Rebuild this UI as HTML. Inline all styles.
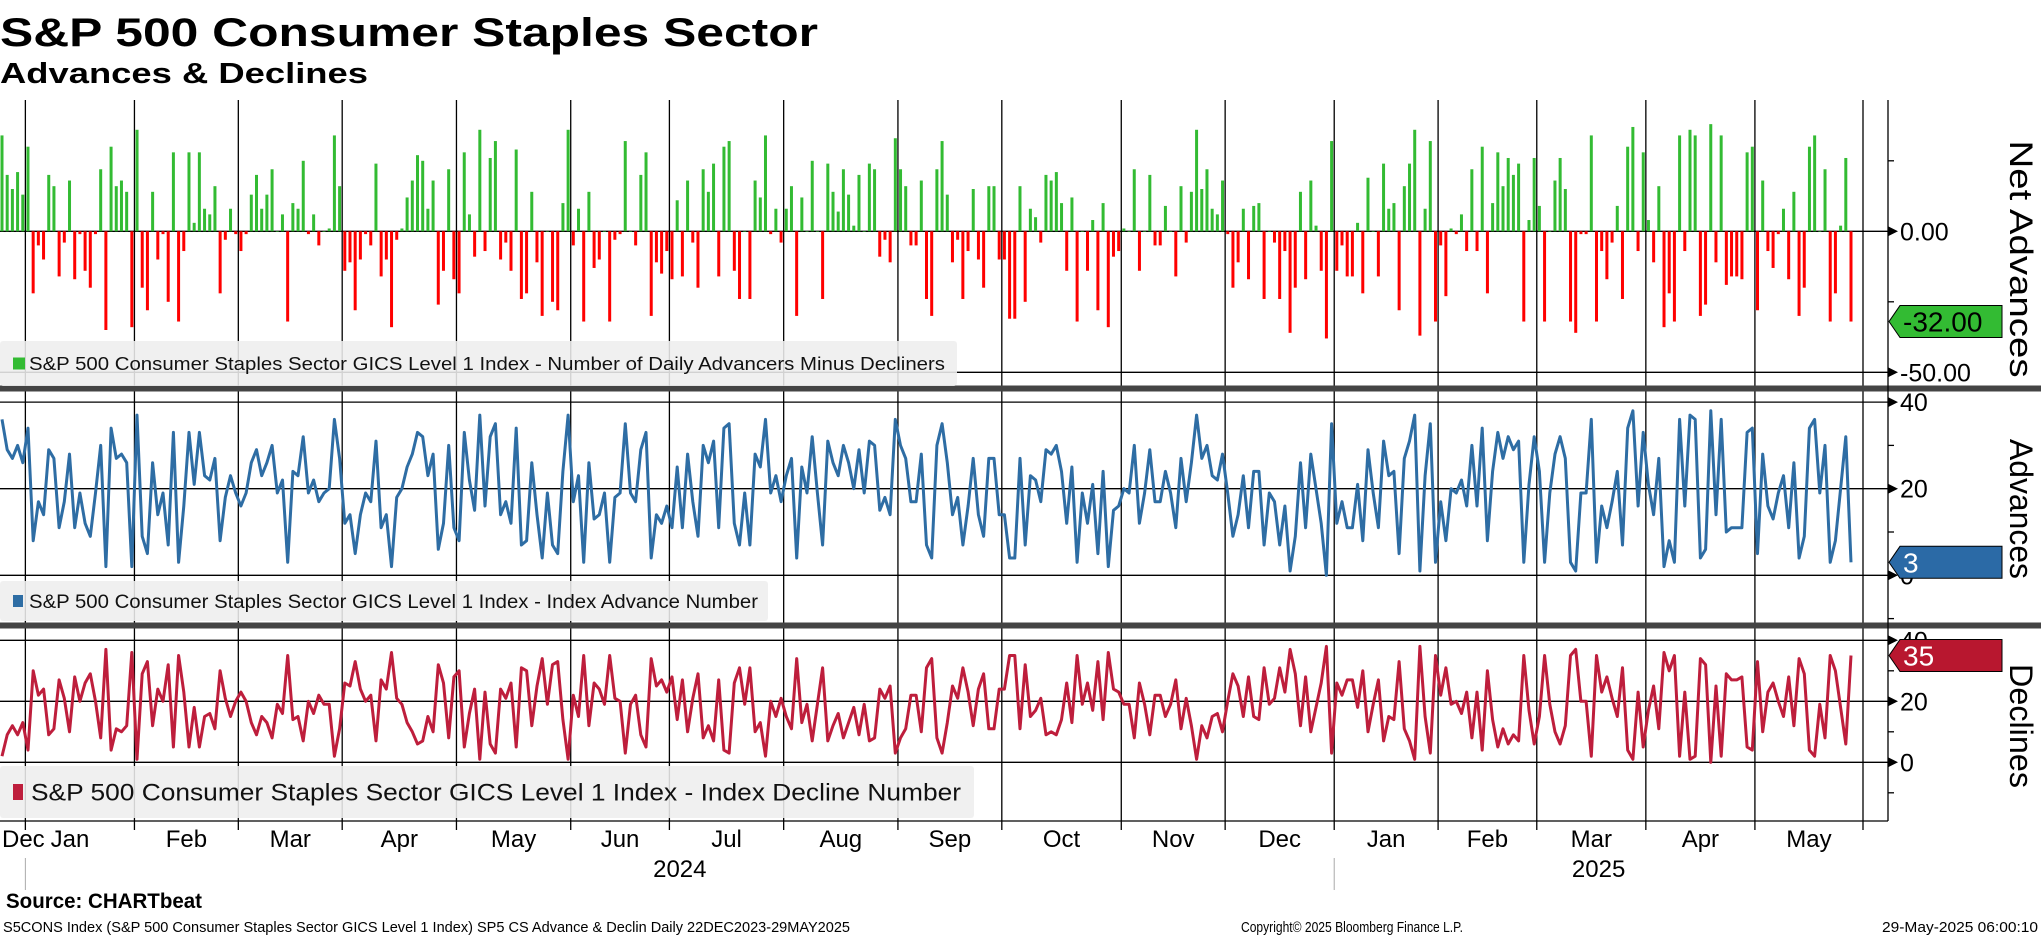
<!DOCTYPE html>
<html><head><meta charset="utf-8"><style>
html,body{margin:0;padding:0;background:#fff;}
svg{display:block;font-family:"Liberation Sans",sans-serif;}
</style></head><body>
<svg id="chart" width="2041" height="936" viewBox="0 0 2041 936" xmlns="http://www.w3.org/2000/svg">
<text x="0" y="46" font-size="40" font-weight="bold" textLength="818" lengthAdjust="spacingAndGlyphs">S&amp;P 500 Consumer Staples Sector</text>
<text x="0" y="83" font-size="29" font-weight="bold" textLength="368" lengthAdjust="spacingAndGlyphs">Advances &amp; Declines</text>
<g id="grid"></g>
<g id="marks"></g>
<g id="overlay"></g>
<text x="6" y="908" font-size="21" font-weight="bold" textLength="196" lengthAdjust="spacingAndGlyphs">Source: CHARTbeat</text>
<text x="3" y="932" font-size="15" textLength="847" lengthAdjust="spacingAndGlyphs">S5CONS Index (S&amp;P 500 Consumer Staples Sector GICS Level 1 Index) SP5 CS Advance &amp; Declin  Daily 22DEC2023-29MAY2025</text>
<text x="1241" y="932" font-size="15" textLength="222" lengthAdjust="spacingAndGlyphs">Copyright© 2025 Bloomberg Finance L.P.</text>
<text x="1882" y="932" font-size="15" textLength="156" lengthAdjust="spacingAndGlyphs">29-May-2025 06:00:10</text>
</svg>
<script>
const netValues = [34,20,15,21,13,30,-22,-5,-10,20,16,-16,-4,18,-17,-1,-14,-20,-1,22,-35,30,16,18,14,-34,36,-20,-28,14,-10,-1,-25,28,-32,-7,28,3,28,8,6,16,-22,-3,8,-1,-7,-1,13,20,8,13,22,0,6,-32,10,8,25,-1,6,-5,0,1,34,16,-14,-11,-28,-10,-1,-5,24,-16,-10,-34,-3,1,12,18,27,25,8,18,-26,-14,22,-17,-22,28,6,-9,36,
-7,26,32,-10,-4,-14,29,-24,-22,14,-11,-30,0,-25,-28,10,36,-5,8,-32,14,-13,-10,0,-32,-3,-1,32,0,-5,20,28,-30,-11,-15,-7,-17,11,-16,18,-4,-20,22,14,24,-16,30,32,-14,-24,0,-24,18,12,34,-1,8,-4,8,16,-30,12,0,25,0,-24,24,14,7,22,13,2,20,0,24,22,-9,-3,-11,33,22,16,-5,-5,18,-24,-30,22,32,13,
-11,-3,-24,-7,15,-10,-20,16,16,-10,-10,-31,-31,16,-25,8,5,-4,20,18,21,10,-14,12,-32,0,-14,4,-28,10,-34,-9,-7,1,0,22,-14,0,20,-5,-5,9,0,-16,16,-4,14,36,15,22,8,6,18,-1,-20,-11,8,-17,9,10,-24,0,-4,-24,-7,-36,-20,14,-17,18,2,-14,-38,32,-14,-5,-16,-16,3,-22,19,0,-16,24,8,10,-28,16,24,36,-37,
8,32,-32,-5,-23,1,-1,6,-7,22,-7,30,-22,10,28,16,26,20,24,-32,4,26,9,-32,0,18,26,15,-32,-36,-1,-1,34,-32,-7,-17,-4,9,-24,30,37,-7,28,4,-11,16,-34,-22,-32,34,-7,36,34,-30,-26,38,-11,34,-19,-16,-16,-17,28,30,-28,18,-7,-13,-1,8,-17,14,-30,-20,30,34,0,22,-32,-22,2,26,-32];
const advValues = [36,29,27,30,26,34,8,17,14,29,27,11,17,28,11,19,12,9,19,30,2,34,27,28,26,2,37,9,5,26,14,19,7,33,3,16,33,21,33,23,22,27,8,18,23,19,16,19,26,29,23,26,30,19,22,3,24,23,32,19,22,17,19,20,36,27,12,14,5,14,19,17,31,11,14,2,18,20,25,28,33,32,23,28,6,12,30,11,8,33,22,15,37,
16,32,35,14,17,12,34,7,8,26,14,4,19,7,5,24,37,17,23,3,26,13,14,19,3,18,19,35,19,17,29,33,4,14,12,16,11,25,11,28,17,9,30,26,31,11,34,35,12,7,19,7,28,25,36,19,23,17,23,27,4,25,19,32,19,7,31,26,23,30,26,20,29,19,31,30,15,18,14,36,30,27,17,17,28,7,4,30,35,26,
14,18,7,16,27,14,9,27,27,14,14,4,4,27,7,23,22,17,29,28,30,24,12,25,3,19,12,21,5,24,2,15,16,20,19,30,12,19,29,17,17,24,19,11,27,17,26,37,27,30,23,22,28,19,9,14,23,11,24,24,7,19,17,7,16,1,9,26,11,28,20,12,0,35,12,17,11,11,21,8,29,19,11,31,23,24,5,27,31,37,1,
23,35,3,17,8,20,19,22,16,30,16,34,8,24,33,27,32,29,31,3,21,32,24,3,19,28,32,27,3,1,19,19,36,3,16,11,17,24,7,34,38,16,33,21,14,27,2,8,3,36,16,37,36,4,6,38,14,36,10,11,11,11,33,34,5,28,16,13,19,23,11,26,4,9,34,36,19,30,3,8,20,32,3];
const monthLabels = ["Jan","Feb","Mar","Apr","May","Jun","Jul","Aug","Sep","Oct","Nov","Dec","Jan","Feb","Mar","Apr","May"];
const monthStartIdx = [5,26,46,66,88,110,129,151,173,193,216,236,257,277,296,317,338];
const yearLabels = ["2024","2025"];
const netTicks = [0,-50];
const netMinor = [25,-25];
const advTicks = [40,20,0];
const decTicks = [40,20,0];
const lineMinor = [30,10,-10];

const NS="http://www.w3.org/2000/svg";
const grid=document.getElementById('grid'), marks=document.getElementById('marks'), overlay=document.getElementById('overlay');
function mk(tag,attrs,parent){const e=document.createElementNS(NS,tag);for(const k in attrs)e.setAttribute(k,attrs[k]);parent.appendChild(e);return e;}
const n=netValues.length;
const X0=2, X1=1851, AX=1888, TOP=100, BOT=821;
const x=i=>X0+i*(X1-X0)/(n-1);
const yNet=v=>231.3-v*2.82;
const yAdv=v=>575.3-v*4.33;
const yDec=v=>762.3-v*3.05;
const decValues=advValues.map((a,i)=>a-netValues[i]);

// month gridlines
const gx=monthStartIdx.map(i=>x(i-0.5));
gx.push(1863);
gx.forEach((g,k)=>{
  const l=mk('line',{x1:g,x2:g,y1:TOP,y2:830,stroke:'#000','stroke-width':1.3},grid);
  
  
});
// year separator
[0,12].forEach(k=>{
  const l=mk('line',{x1:gx[k],x2:gx[k],y1:858,y2:890,stroke:'#aaa','stroke-width':1},grid);
  
  
});
// horizontal gridlines
function hline(y,name){const l=mk('line',{x1:0,x2:AX,y1:y,y2:y,stroke:'#000','stroke-width':1.3},grid);}
netTicks.forEach(v=>hline(yNet(v),'net-gridline'));
advTicks.forEach(v=>hline(yAdv(v),'advances-gridline'));
decTicks.forEach(v=>hline(yDec(v),'declines-gridline'));
hline(BOT,'x-axis-line');
// separators
[389,626].forEach(y=>{const r=mk('rect',{x:0,y:y-3.5,width:2041,height:6,fill:'#444'},overlay);});
// right axis
const ax=mk('line',{x1:AX,x2:AX,y1:TOP,y2:BOT,stroke:'#000','stroke-width':1.3},overlay);



// bars
netValues.forEach((v,i)=>{
  const y0=yNet(0), y1=yNet(v);
  const r=mk('rect',{x:x(i)-1.5,y:Math.min(y0,y1),width:3,height:Math.max(Math.abs(y1-y0),0.6),fill:v>=0?'#33bb33':'#ff0000'},marks);
  
  
});
// lines
const pa=mk('polyline',{points:advValues.map((v,i)=>x(i).toFixed(1)+','+yAdv(v).toFixed(1)).join(' '),fill:'none',stroke:'#2e6da4','stroke-width':3,'stroke-linejoin':'round'},marks);


const pd=mk('polyline',{points:decValues.map((v,i)=>x(i).toFixed(1)+','+yDec(v).toFixed(1)).join(' '),fill:'none',stroke:'#be1e3c','stroke-width':3,'stroke-linejoin':'round'},marks);



// legends
function legend(y,h,w,col,txt,tx,tl,fs,sq,name){
  const g=mk('g',{},overlay);
  
  
  mk('rect',{x:0,y:y,width:w,height:h,fill:'#eeeeee','fill-opacity':0.88,rx:3},g);
  mk('rect',{x:sq[0],y:y+h/2-sq[1]/2,width:sq[2],height:sq[1],fill:col},g);
  const t=mk('text',{x:tx,y:y+h/2+fs*0.36,'font-size':fs,textLength:tl,lengthAdjust:'spacingAndGlyphs',fill:'#111'},g);
  t.textContent=txt;
}
legend(341,45,957,'#33bb33','S&P 500 Consumer Staples Sector GICS Level 1 Index - Number of Daily Advancers Minus Decliners',29,916,18,[13,12,12],'net-advances-legend');
legend(581,40,768,'#2e6da4','S&P 500 Consumer Staples Sector GICS Level 1 Index - Index Advance Number',29,729,19,[13,12,10],'advances-legend');
legend(766,52,974,'#be1e3c','S&P 500 Consumer Staples Sector GICS Level 1 Index - Index Decline Number',31,930,24,[13,16,10],'declines-legend');

// axis ticks and labels
function tick(y,label,name){
  const a=mk('polygon',{points:`${AX},${y-5} ${AX+10},${y} ${AX},${y+5}`,fill:'#000'},overlay);
  
  
  const t=mk('text',{x:AX+12,y:y+9,'font-size':25},overlay);
  t.textContent=label;
  
  
}
function minor(y){const l=mk('line',{x1:AX,x2:AX+6,y1:y,y2:y,stroke:'#000','stroke-width':1.3},overlay);}
netTicks.forEach(v=>tick(yNet(v),v.toFixed(2),'net-tick-label'));
netMinor.forEach(v=>minor(yNet(v)));
advTicks.forEach(v=>tick(yAdv(v),String(v),'advances-tick-label'));
lineMinor.forEach(v=>minor(yAdv(v)));
decTicks.forEach(v=>tick(yDec(v),String(v),'declines-tick-label'));
lineMinor.forEach(v=>minor(yDec(v)));

// last value tags
function tag(yc,val,col,w,name){
  const g=mk('g',{},overlay);
  
  
  mk('polygon',{points:`${AX+1},${yc} ${AX+12},${yc-16} 2002,${yc-16} 2002,${yc+16} ${AX+12},${yc+16}`,fill:col,stroke:'#000','stroke-width':1},g);
  const t=mk('text',{x:AX+15,y:yc+10,'font-size':28,fill:w},g);
  t.textContent=val;
}
const lastNet=netValues[n-1], lastAdv=advValues[n-1], lastDec=decValues[n-1];
tag(yNet(lastNet),lastNet.toFixed(2),'#33bb33','#000','net-last-value');
tag(Math.max(yAdv(lastAdv),562),String(lastAdv),'#2b6aa6','#fff','advances-last-value');
tag(Math.max(yDec(lastDec),654),String(lastDec),'#b8172f','#fff','declines-last-value');

// axis titles
function vtitle(cy,txt,len,name){
  const t=mk('text',{x:0,y:0,'font-size':32,'text-anchor':'middle',textLength:len,lengthAdjust:'spacingAndGlyphs',transform:`translate(2010,${cy}) rotate(90)`},overlay);
  t.textContent=txt;
  
  
}
vtitle(259,'Net Advances',237,'net-advances-axis-title');
vtitle(509,'Advances',140,'advances-axis-title');
vtitle(726,'Declines',124,'declines-axis-title');

// month labels
const dec=mk('text',{x:2,y:847,'font-size':24},overlay);
dec.textContent='Dec';


monthLabels.forEach((m,k)=>{
  let cx=(gx[k]+gx[k+1])/2;
  if(k===0) cx=70;
  const t=mk('text',{x:cx,y:847,'font-size':24,'text-anchor':'middle'},overlay);
  t.textContent=m;
  
  
});
const yc=[(gx[0]+gx[12])/2,(gx[12]+gx[17])/2];
yearLabels.forEach((y,k)=>{
  const t=mk('text',{x:yc[k],y:877,'font-size':24,'text-anchor':'middle'},overlay);
  t.textContent=y;
  
  
});
</script>
</body></html>
